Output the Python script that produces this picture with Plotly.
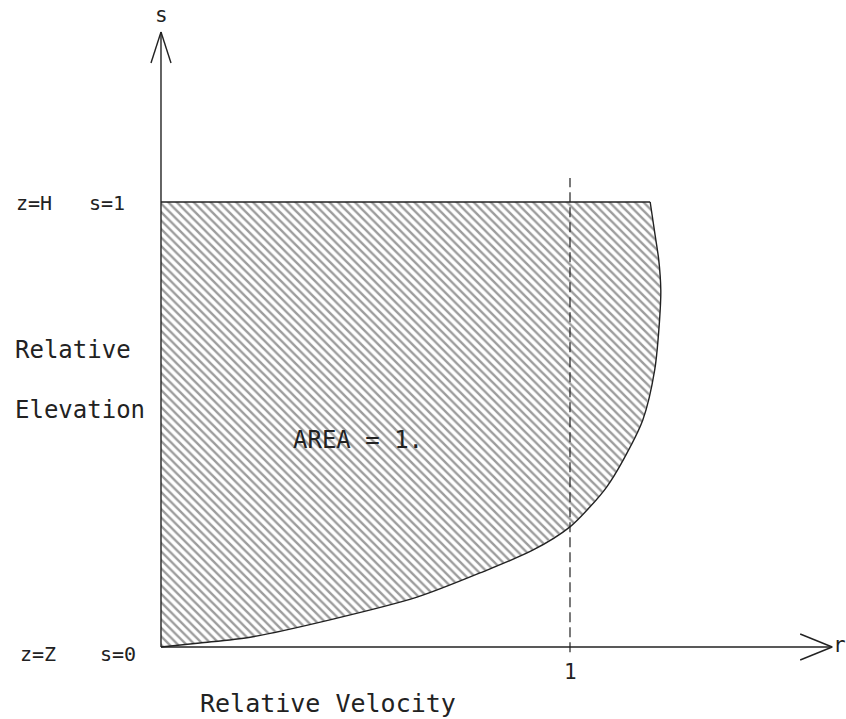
import plotly.graph_objects as go

# Relative velocity profile r(s) over the relative elevation s (0 at bed, 1 at surface)
profile_r = [0.0, 0.095, 0.218, 0.413, 0.626, 0.787, 0.910, 1.000, 1.049, 1.090,
             1.130, 1.178, 1.207, 1.219, 1.222, 1.217, 1.208, 1.196]
profile_s = [0.0, 0.009, 0.022, 0.061, 0.112, 0.169, 0.218, 0.270, 0.315, 0.360,
             0.420, 0.510, 0.622, 0.735, 0.802, 0.870, 0.926, 1.000]

unit_r = 1.0          # reference velocity line r = 1
tick_labels = ["1"]
area_label = "AREA = 1."

W, H = 846, 719
X0, X1 = -0.3936, 1.6748     # horizontal data range
Y0, Y1 = -0.1618, 1.4539     # vertical data range

INK = "#222222"
FONT = "DejaVu Sans Mono"

# per-pixel sizes in data units, used for arrowhead geometry
dx = (X1 - X0) / W
dy = (Y1 - Y0) / H

fig = go.Figure()

# hatched area under the profile
poly_r = profile_r + [0.0, 0.0]
poly_s = profile_s + [1.0, 0.0]
fig.add_trace(go.Scatter(
    x=poly_r, y=poly_s, mode="lines", fill="toself",
    fillcolor="rgba(0,0,0,0)",
    fillpattern=dict(shape="\\", size=6, solidity=0.4,
                     fgcolor="#3a3a3a", bgcolor="white"),
    line=dict(width=0),
    hoverinfo="skip", showlegend=False,
))

# profile outline
fig.add_trace(go.Scatter(
    x=profile_r, y=profile_s, mode="lines",
    line=dict(color=INK, width=1.4, shape="spline", smoothing=0.8),
    hoverinfo="skip", showlegend=False,
))

# dashed reference line at r = 1
fig.add_trace(go.Scatter(
    x=[unit_r, unit_r], y=[-0.012, 1.054], mode="lines",
    line=dict(color=INK, width=1.2, dash="10px,5px"),
    hoverinfo="skip", showlegend=False,
))

# axes with open arrowheads, and the surface line s = 1
s_top = 1.382
r_end = 1.641
shapes = [
    dict(type="line", x0=0, y0=0, x1=0, y1=s_top),
    dict(type="line", x0=0, y0=0, x1=r_end, y1=0),
    dict(type="line", x0=0, y0=1, x1=profile_r[-1], y1=1),
    dict(type="line", x0=0, y0=s_top, x1=-10 * dx, y1=s_top - 31 * dy),
    dict(type="line", x0=0, y0=s_top, x1=10 * dx, y1=s_top - 31 * dy),
    dict(type="line", x0=r_end, y0=0, x1=r_end - 32 * dx, y1=13 * dy),
    dict(type="line", x0=r_end, y0=0, x1=r_end - 32 * dx, y1=-13 * dy),
]
for sh in shapes:
    sh.update(xref="x", yref="y", line=dict(color=INK, width=1.4))
fig.update_layout(shapes=shapes)


def px(x, y):
    """pixel position -> data coordinates"""
    return X0 + x * dx, Y1 - y * dy


def label(text, x, y, size, xanchor="center"):
    xd, yd = px(x, y)
    fig.add_annotation(x=xd, y=yd, text=text, showarrow=False,
                       xanchor=xanchor, yanchor="middle",
                       font=dict(family=FONT, size=size, color=INK))


label("s", 161, 15, 21)
label("r", 839, 645, 21)
label("z=H", 34, 203, 20)
label("s=1", 107, 203, 20)
label("z=Z", 38, 654, 20)
label("s=0", 118, 654, 20)
label("Relative", 13, 350, 24, xanchor="left")
label("Elevation", 13, 410, 24, xanchor="left")
label(area_label, 358, 440, 24)
label("Relative Velocity", 328, 703, 25)

fig.add_annotation(x=unit_r, y=px(0, 672)[1], text=tick_labels[0], showarrow=False,
                   xanchor="center", yanchor="middle",
                   font=dict(family=FONT, size=21, color=INK))

fig.update_layout(
    width=W, height=H, autosize=False,
    margin=dict(l=0, r=0, t=0, b=0),
    paper_bgcolor="white", plot_bgcolor="white",
    xaxis=dict(range=[X0, X1], visible=False, fixedrange=True),
    yaxis=dict(range=[Y0, Y1], visible=False, fixedrange=True),
)

fig.write_html("out.html")
